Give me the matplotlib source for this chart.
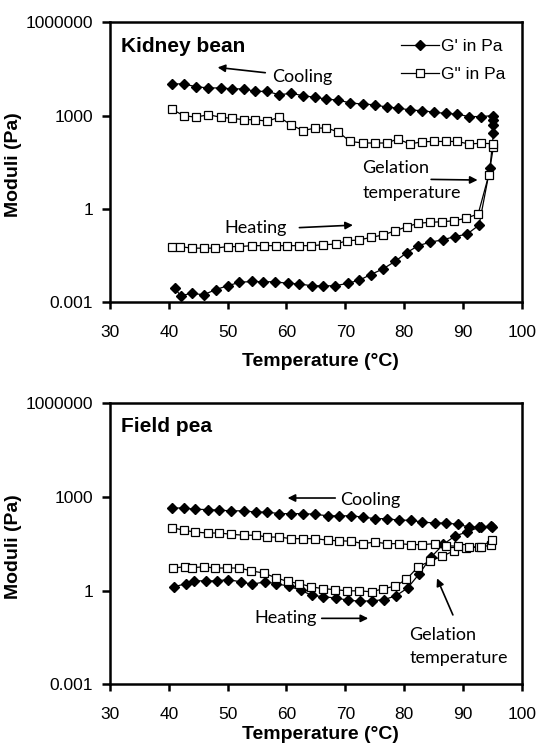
import matplotlib
matplotlib.use("Agg")
import matplotlib.pyplot as plt
import numpy as np

# ---- Kidney bean (log10 of modulus in Pa) ----
kb_t_heat = [41.0, 42.0, 43.9, 45.9, 48.0, 50.0, 52.0, 54.1, 56.0, 58.0, 60.2, 62.2,
             64.3, 66.3, 68.3, 70.4, 72.4, 74.3, 76.4, 78.5, 80.5, 82.4, 84.4, 86.6,
             88.6, 90.7, 92.75, 94.6, 95.2, 95.2, 95.2, 95.2]
kb_gp_heat = [-2.54, -2.79, -2.71, -2.76, -2.59, -2.47, -2.36, -2.33, -2.34, -2.34, -2.39,
              -2.41, -2.47, -2.47, -2.47, -2.39, -2.29, -2.11, -1.93, -1.68, -1.40, -1.18,
              -1.07, -0.99, -0.89, -0.81, -0.52, 1.31, 2.44, 2.70, 2.85, 3.00]
kb_t_heat2 = [40.6, 41.9, 43.9, 45.9, 47.9, 50.0, 52.0, 54.1, 56.1, 58.2, 60.1, 62.1,
              64.2, 66.3, 68.4, 70.3, 72.3, 74.4, 76.4, 78.5, 80.5, 82.4, 84.4, 86.5,
              88.5, 90.5, 92.6, 94.4, 95.2, 95.2]
kb_gpp_heat = [-1.21, -1.21, -1.26, -1.26, -1.26, -1.21, -1.21, -1.18, -1.18, -1.18, -1.18,
               -1.18, -1.18, -1.15, -1.13, -1.02, -1.00, -0.91, -0.84, -0.70, -0.57, -0.46,
               -0.43, -0.41, -0.38, -0.30, -0.16, 1.09, 2.00, 2.10]
kb_t_cool = [93.0, 91.0, 89.0, 87.1, 85.1, 83.1, 81.0, 78.9, 77.1, 75.0, 73.0, 70.8,
             68.8, 66.8, 64.9, 62.8, 60.8, 58.8, 56.7, 54.7, 52.8, 50.8, 48.8, 46.7,
             44.6, 42.5, 40.5]
kb_gp_cool = [2.97, 2.97, 3.05, 3.07, 3.11, 3.16, 3.18, 3.25, 3.27, 3.35, 3.37, 3.41,
              3.50, 3.53, 3.59, 3.64, 3.72, 3.67, 3.78, 3.78, 3.86, 3.86, 3.89, 3.89,
              3.93, 4.02, 4.02]
kb_gpp_cool = [2.11, 2.09, 2.17, 2.17, 2.17, 2.16, 2.09, 2.25, 2.12, 2.12, 2.12, 2.17,
               2.48, 2.60, 2.60, 2.52, 2.70, 2.95, 2.82, 2.87, 2.87, 2.91, 2.95, 3.03,
               2.95, 3.00, 3.21]

# ---- Field pea (log10 of modulus in Pa) ----
fp_t_heat = [40.9, 42.9, 44.2, 46.3, 48.2, 50.0, 52.2, 54.2, 56.3, 58.2, 60.4, 62.4,
             64.3, 66.3, 68.5, 70.5, 72.5, 74.6, 76.6, 78.6, 80.6, 82.6, 84.6, 86.7,
             88.7, 90.7, 92.8, 94.8]
fp_gp_heat = [0.12, 0.22, 0.31, 0.31, 0.31, 0.35, 0.28, 0.20, 0.28, 0.22, 0.14, 0.01,
              -0.15, -0.20, -0.24, -0.31, -0.34, -0.33, -0.29, -0.17, 0.08, 0.54, 1.07,
              1.48, 1.75, 1.87, 2.03, 2.06]
fp_t_heat2 = [40.7, 42.7, 43.9, 46.0, 47.9, 49.9, 52.0, 54.0, 56.1, 58.2, 60.2, 62.2,
              64.2, 66.2, 68.2, 70.3, 72.3, 74.5, 76.5, 78.5, 80.4, 82.4, 84.4, 86.5,
              88.5, 90.5, 92.8, 94.8]
fp_gpp_heat = [0.72, 0.76, 0.73, 0.76, 0.72, 0.72, 0.72, 0.63, 0.56, 0.41, 0.29, 0.22,
               0.12, 0.06, 0.03, -0.01, -0.01, -0.04, 0.06, 0.14, 0.36, 0.76, 0.94, 1.10,
               1.27, 1.37, 1.39, 1.45]
fp_t_cool = [95.0, 93.0, 91.1, 89.1, 87.1, 85.2, 83.1, 81.1, 79.1, 77.1, 75.0, 73.0,
             71.0, 69.0, 67.0, 64.9, 62.8, 60.8, 58.8, 56.7, 54.8, 52.7, 50.6, 48.6,
             46.6, 44.5, 42.5, 40.6]
fp_gp_cool = [2.04, 2.03, 2.03, 2.12, 2.16, 2.16, 2.19, 2.25, 2.25, 2.30, 2.30, 2.35,
              2.39, 2.39, 2.39, 2.44, 2.46, 2.46, 2.46, 2.51, 2.51, 2.55, 2.55, 2.57,
              2.59, 2.60, 2.64, 2.64]
fp_gpp_cool = [1.62, 1.39, 1.39, 1.42, 1.43, 1.50, 1.47, 1.47, 1.50, 1.50, 1.55, 1.50,
               1.58, 1.59, 1.61, 1.66, 1.66, 1.66, 1.71, 1.71, 1.77, 1.77, 1.80, 1.84,
               1.84, 1.87, 1.93, 2.01]

x_ticks = [30, 40, 50, 60, 70, 80, 90, 100]
y_ticks = [0.001, 1, 1000, 1000000]
y_tick_labels = ["0.001", "1", "1000", "1000000"]

ARIAL = "Liberation Sans"
CALIB = "Lato"
plt.rcParams.update({"font.family": ARIAL, "axes.linewidth": 1.8})

fig = plt.figure(figsize=(5.39, 7.46), dpi=100)


def painel(pos, t_h, gp_h, t_h2, gpp_h, t_c, gp_c, gpp_c, titulo, legenda, xlab_y):
    ax = fig.add_axes(pos)
    t_gp = list(t_h) + list(t_c)
    v_gp = 10 ** np.array(list(gp_h) + list(gp_c))
    t_gpp = list(t_h2) + list(t_c)
    v_gpp = 10 ** np.array(list(gpp_h) + list(gpp_c))
    ax.plot(t_gp, v_gp, color="black", lw=0.9, marker="D", ms=5,
            mfc="black", mec="black", label="G' in Pa")
    ax.plot(t_gpp, v_gpp, color="black", lw=0.9, marker="s", ms=5.5,
            mfc="white", mec="black", mew=0.9, label='G" in Pa')
    ax.set_yscale("log")
    ax.set_xlim(30, 100)
    ax.set_ylim(1e-3, 1e6)
    ax.set_xticks(x_ticks)
    ax.set_xticklabels([str(v) for v in x_ticks])
    ax.set_yticks(y_ticks)
    ax.set_yticklabels(y_tick_labels)
    ax.minorticks_off()
    ax.tick_params(axis="x", direction="out", length=5, width=1.8, pad=11, labelsize=12.5)
    ax.tick_params(axis="y", direction="out", length=6, width=1.8, pad=6, labelsize=12.5)
    ax.set_xlabel("Temperature (°C)", fontsize=14, fontweight="bold")
    ax.xaxis.set_label_coords(0.51, xlab_y)
    ax.set_ylabel("Moduli (Pa)", fontsize=14, fontweight="bold")
    ax.yaxis.set_label_coords(-0.214, 0.49)
    ax.text(0.027, 0.915, titulo, transform=ax.transAxes, fontsize=15,
            fontweight="bold", va="center", ha="left")
    if legenda:
        ax.legend(loc="upper right", frameon=False, numpoints=1,
                  handlelength=2.2, handletextpad=0.1, labelspacing=0.75,
                  borderaxespad=0.55, prop={"family": ARIAL, "size": 12.5})
    return ax


def seta(ax, cauda, ponta):
    ax.annotate("", xy=ponta, xytext=cauda,
                arrowprops=dict(arrowstyle="-|>", color="black", lw=1.2,
                                mutation_scale=11, shrinkA=0, shrinkB=0))


ax1 = painel([0.2041, 0.5948, 0.7638, 0.3753], kb_t_heat, kb_gp_heat, kb_t_heat2,
             kb_gpp_heat, kb_t_cool, kb_gp_cool, kb_gpp_cool, "Kidney bean", True, -0.18)
ax1.text(57.6, 10 ** 4.23, "Cooling", family=CALIB, fontsize=13, va="center")
seta(ax1, (56.4, 10 ** 4.38), (48.3, 10 ** 4.55))
ax1.text(72.9, 10 ** 1.31, "Gelation", family=CALIB, fontsize=13, va="center")
ax1.text(72.9, 10 ** 0.52, "temperature", family=CALIB, fontsize=13, va="center")
seta(ax1, (84.6, 10 ** 0.95), (92.5, 10 ** 0.93))
ax1.text(49.5, 10 ** -0.62, "Heating", family=CALIB, fontsize=13, va="center")
seta(ax1, (62.2, 10 ** -0.60), (71.3, 10 ** -0.52))

ax2 = painel([0.2041, 0.0827, 0.7638, 0.3771], fp_t_heat, fp_gp_heat, fp_t_heat2,
             fp_gpp_heat, fp_t_cool, fp_gp_cool, fp_gpp_cool, "Field pea", False, -0.147)
ax2.text(69.2, 10 ** 2.90, "Cooling", family=CALIB, fontsize=13, va="center")
seta(ax2, (68.3, 10 ** 2.96), (60.2, 10 ** 2.96))
ax2.text(54.6, 10 ** -0.89, "Heating", family=CALIB, fontsize=13, va="center")
seta(ax2, (66.0, 10 ** -0.89), (73.9, 10 ** -0.89))
ax2.text(80.85, 10 ** -1.42, "Gelation", family=CALIB, fontsize=13, va="center")
ax2.text(80.85, 10 ** -2.16, "temperature", family=CALIB, fontsize=13, va="center")
seta(ax2, (88.3, 10 ** -0.78), (85.6, 10 ** 0.39))

fig.savefig("out.png", dpi=100)
